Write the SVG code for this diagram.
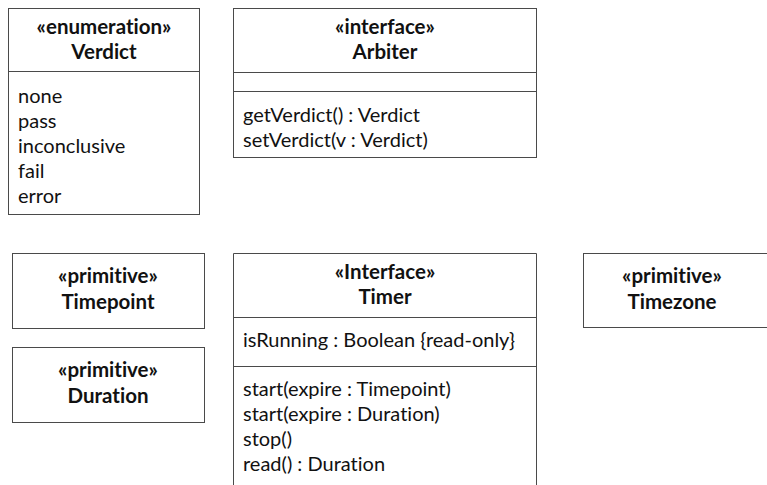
<svg xmlns="http://www.w3.org/2000/svg" width="767" height="485" viewBox="0 0 767 485">
<style>
.box{fill:#fff;stroke:#4a4a4a;stroke-width:1}
.ln{stroke:#4a4a4a;stroke-width:1}
text{font-family:Lato,"Open Sans",sans-serif;font-size:20px;fill:#111;font-variant-ligatures:none;font-feature-settings:"liga" 0,"dlig" 0}
.h{font-weight:bold;text-anchor:middle;font-size:20.5px}
</style>
<rect width="767" height="485" fill="#fff"/>
<g id="Verdict">
<rect class="box" x="8.5" y="8.5" width="191" height="206"/>
<line class="ln" x1="8.5" y1="71.5" x2="199.5" y2="71.5"/>
<text class="h" x="104" y="34">«enumeration»</text>
<text class="h" x="104" y="59">Verdict</text>
<text x="18" y="103">none</text>
<text x="18" y="128">pass</text>
<text x="18" y="153">inconclusive</text>
<text x="18" y="178">fail</text>
<text x="18" y="203">error</text>
</g>
<g id="Arbiter">
<rect class="box" x="233.5" y="8.5" width="303" height="149"/>
<line class="ln" x1="233.5" y1="72.5" x2="536.5" y2="72.5"/>
<line class="ln" x1="233.5" y1="91.5" x2="536.5" y2="91.5"/>
<text class="h" x="385" y="34">«interface»</text>
<text class="h" x="385" y="59">Arbiter</text>
<text x="243" y="122">getVerdict() : Verdict</text>
<text x="243" y="147">setVerdict(v : Verdict)</text>
</g>
<g id="Timepoint">
<rect class="box" x="12.5" y="253.5" width="192" height="75"/>
<text class="h" x="108" y="283">«primitive»</text>
<text class="h" x="108" y="309">Timepoint</text>
</g>
<g id="Duration">
<rect class="box" x="12.5" y="347.5" width="192" height="75"/>
<text class="h" x="108" y="377">«primitive»</text>
<text class="h" x="108" y="403">Duration</text>
</g>
<g id="Timer">
<path class="ln" fill="none" d="M233.5,486V253.5H536.5V486"/>
<line class="ln" x1="233.5" y1="317.5" x2="536.5" y2="317.5"/>
<line class="ln" x1="233.5" y1="366.5" x2="536.5" y2="366.5"/>
<text class="h" x="385" y="279">«Interface»</text>
<text class="h" x="385" y="304">Timer</text>
<text x="243" y="347">isRunning : Boolean {read-only}</text>
<text x="243" y="396">start(expire : Timepoint)</text>
<text x="243" y="421">start(expire : Duration)</text>
<text x="243" y="446">stop()</text>
<text x="243" y="471">read() : Duration</text>
</g>
<g id="Timezone">
<rect class="box" x="583.5" y="253.5" width="190" height="74"/>
<text class="h" x="672" y="283">«primitive»</text>
<text class="h" x="672" y="309">Timezone</text>
</g>
<g id="connectors"></g>
</svg>
